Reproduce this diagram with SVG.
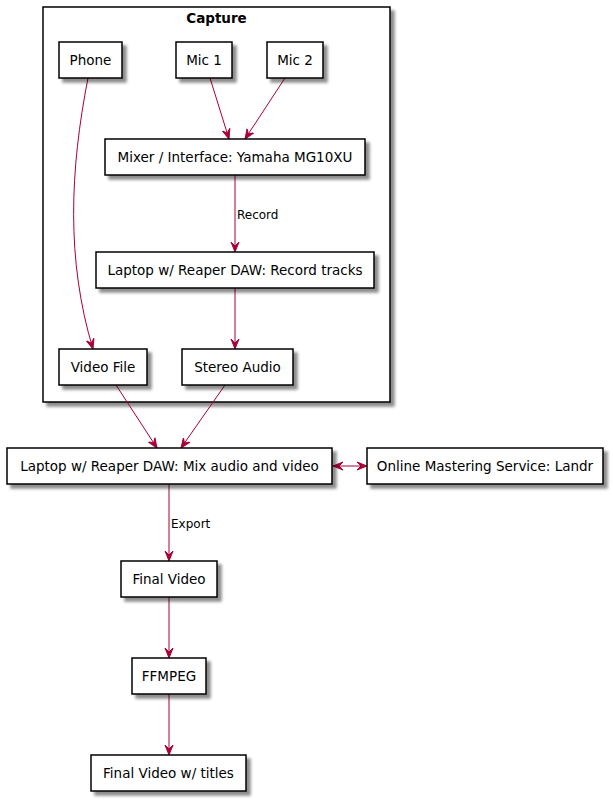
<svg xmlns="http://www.w3.org/2000/svg" width="613" height="802" viewBox="0 0 613 802">
<defs>
<filter id="sh" x="-10%" y="-20%" width="130%" height="160%">
<feGaussianBlur in="SourceAlpha" stdDeviation="1.8"/>
<feOffset dx="4" dy="4" result="b"/>
<feComponentTransfer><feFuncA type="linear" slope="0.45"/></feComponentTransfer>
<feMerge><feMergeNode/><feMergeNode in="SourceGraphic"/></feMerge>
</filter>
<marker id="ah" viewBox="0 0 10 10" refX="10" refY="5" markerWidth="10" markerHeight="10" markerUnits="userSpaceOnUse" orient="auto-start-reverse">
<path d="M10,5 L0,1 L4,5 L0,9 Z" fill="#A80036" stroke="#A80036" stroke-width="1"/>
</marker>
<style>
.box{fill:#fff;stroke:#000;stroke-width:1.5;filter:url(#sh)}
.t{font-family:"DejaVu Sans",sans-serif;font-size:13.5px;fill:#000;text-anchor:middle}
.lbl{font-family:"DejaVu Sans",sans-serif;font-size:12px;fill:#000}
.e{fill:none;stroke:#A80036;stroke-width:1;marker-end:url(#ah)}
</style>
</defs>
<g id="capture">
<rect x="43" y="7" width="347" height="395" class="box"/>
<text x="216.5" y="23" font-family="DejaVu Sans, sans-serif" font-size="13.5" font-weight="bold" text-anchor="middle">Capture</text>
</g>
<g id="connectors">
<path class="e" d="M88,78 C70,170 66,260 93,349"/>
<path class="e" d="M210,78 L229,139"/>
<path class="e" d="M285,78 L245,139"/>
<path class="e" d="M235,175 L235,252"/>
<text class="lbl" x="237" y="219">Record</text>
<path class="e" d="M235,288 L235,349"/>
<path class="e" d="M116,385 L157,448"/>
<path class="e" d="M225,385 L181,448"/>
<path class="e" d="M333,466 L367,466" style="marker-start:url(#ah)"/>
<path class="e" d="M169,484 L169,561"/>
<text class="lbl" x="171" y="528">Export</text>
<path class="e" d="M169,597 L169,658"/>
<path class="e" d="M169,694 L169,755"/>
</g>
<g id="phone"><rect class="box" x="59" y="42" width="63" height="36"/><text class="t" x="90.5" y="65">Phone</text></g>
<g id="mic1"><rect class="box" x="176" y="42" width="56" height="36"/><text class="t" x="204" y="65">Mic 1</text></g>
<g id="mic2"><rect class="box" x="267" y="42" width="56" height="36"/><text class="t" x="295" y="65">Mic 2</text></g>
<g id="mixer"><rect class="box" x="105" y="139" width="260" height="36"/><text class="t" x="235" y="162">Mixer / Interface: Yamaha MG10XU</text></g>
<g id="laptop-record"><rect class="box" x="96" y="252" width="278" height="36"/><text class="t" x="235" y="275">Laptop w/ Reaper DAW: Record tracks</text></g>
<g id="video-file"><rect class="box" x="59" y="349" width="88" height="36"/><text class="t" x="103" y="372">Video File</text></g>
<g id="stereo-audio"><rect class="box" x="182" y="349" width="111" height="36"/><text class="t" x="237.5" y="372">Stereo Audio</text></g>
<g id="laptop-mix"><rect class="box" x="7" y="448" width="325" height="36"/><text class="t" x="169.5" y="471">Laptop w/ Reaper DAW: Mix audio and video</text></g>
<g id="landr"><rect class="box" x="367" y="448" width="236" height="36"/><text class="t" x="485" y="471">Online Mastering Service: Landr</text></g>
<g id="final-video"><rect class="box" x="121" y="561" width="96" height="36"/><text class="t" x="169" y="584">Final Video</text></g>
<g id="ffmpeg"><rect class="box" x="132" y="658" width="74" height="36"/><text class="t" x="169" y="681">FFMPEG</text></g>
<g id="final-titles"><rect class="box" x="91" y="755" width="155" height="36"/><text class="t" x="168.5" y="778">Final Video w/ titles</text></g>
</svg>
